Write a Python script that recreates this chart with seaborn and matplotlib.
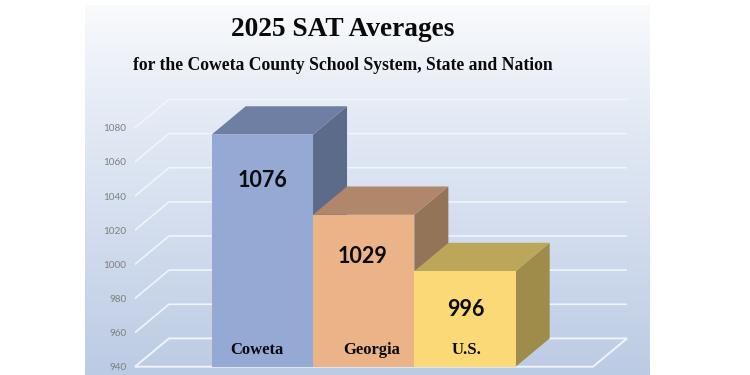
import numpy as np
import pandas as pd
import matplotlib
matplotlib.use("Agg")
import matplotlib.pyplot as plt
from matplotlib.colors import LinearSegmentedColormap
from matplotlib.patches import Polygon
import seaborn as sns

# Chart values
categories = ["Coweta", "Georgia", "U.S."]
scores = [1076, 1029, 996]
y_ticks = [940, 960, 980, 1000, 1020, 1040, 1060, 1080]

front_colors = ["#95A9D5", "#EBB388", "#FBD977"]
top_colors = ["#6E7FA3", "#B0876A", "#BBA65A"]
side_colors = ["#5D6B8B", "#937459", "#9F8C4A"]

W, H = 750, 375

sns.set_theme(style="white")
fig = plt.figure(figsize=(W / 100, H / 100), dpi=100, facecolor="white")

# Gradient panel behind the chart
panel = fig.add_axes([85 / W, 0, 565 / W, 370 / H], zorder=0)
panel_cmap = LinearSegmentedColormap.from_list(
    "panel", [(0, "#F9FAFC"), (0.23, "#E8EEF7"), (1, "#BCCBE4")])
panel.imshow(np.linspace(0, 1, 256).reshape(-1, 1), aspect="auto", cmap=panel_cmap)
panel.axis("off")

# Main axes, front plane of the fake 3D box
ax = fig.add_axes([135 / W, (H - 366.7) / H, (627 - 135) / W, (366.7 - 90) / H], zorder=1)
ax.patch.set_alpha(0)

df = pd.DataFrame({"area": categories, "score": scores})
sns.barplot(data=df, x="area", y="score", hue="area", palette=front_colors,
            saturation=1, width=1, dodge=False, legend=False, ax=ax)

# Later bars sit in front of the side face of the one before
for i, bar in enumerate(list(ax.patches)[:len(scores)]):
    bar.set_edgecolor("none")
    bar.set_zorder(2 + i)

x_per_px = 1 / 101.33
y_per_px = 1 / 1.707
depth_x = 34 * x_per_px
depth_y = 28.3 * y_per_px
x_left = -0.5 - (211.7 - 135) * x_per_px
x_right = -0.5 + (627 - 211.7) * x_per_px
y_base = y_ticks[0]
ax.set_xlim(x_left, x_right)
ax.set_ylim(y_base, y_base + (366.7 - 90) * y_per_px)

# Wall grid and floor
grid_color = "#F1F4FA"
for v in y_ticks[1:]:
    ax.plot([x_left, x_left + depth_x, x_right], [v, v + depth_y, v + depth_y],
            color=grid_color, lw=1.2, zorder=1)
ax.add_patch(Polygon([(x_left, y_base), (x_right - depth_x, y_base),
                      (x_right, y_base + depth_y), (x_left + depth_x, y_base + depth_y)],
                     closed=True, fill=False, edgecolor=grid_color, lw=1.4,
                     clip_on=False, zorder=1))

# Top and side faces of each bar
for i, score in enumerate(scores):
    x0, x1 = i - 0.5, i + 0.5
    ax.add_patch(Polygon([(x1, y_base), (x1, score), (x1 + depth_x, score + depth_y),
                          (x1 + depth_x, y_base + depth_y)],
                         closed=True, facecolor=side_colors[i], edgecolor="none", zorder=1.5 + i))
    ax.add_patch(Polygon([(x0, score), (x1, score), (x1 + depth_x, score + depth_y),
                          (x0 + depth_x, score + depth_y)],
                         closed=True, facecolor=top_colors[i], edgecolor="none", zorder=1.8 + i))

# Labels inside the bars
value_drop_px = [46, 42, 38]
value_shift_px = [0, -1.5, 1]
name_shift_px = [-5, 7.5, 2]
for i, score in enumerate(scores):
    ax.annotate(str(score), (i, score), xytext=(value_shift_px[i] * 0.72, -value_drop_px[i] * 0.72),
                textcoords="offset points", ha="center", va="center",
                family="Lato", fontweight="bold", fontsize=15.5, color="#0A0A0A", zorder=8)
    ax.annotate(categories[i], (i, y_base), xytext=(name_shift_px[i] * 0.72, 9),
                textcoords="offset points", ha="center", va="baseline",
                family="Liberation Serif", fontweight="bold", fontsize=12, color="#0A0A0A", zorder=8)

ax.set_xlabel("")
ax.set_ylabel("")
ax.set_xticks([])
ax.set_yticks(y_ticks)
ax.tick_params(axis="y", length=0, pad=6, labelsize=7.2, labelcolor="#7F7F7F")
for lab in ax.get_yticklabels():
    lab.set_family("Lato")
sns.despine(ax=ax, left=True, bottom=True)

fig.text(343 / W, 1 - 36 / H, "2025 SAT Averages", ha="center", va="baseline",
         family="Liberation Serif", fontweight="bold", fontsize=19.7, color="#0A0A0A")
fig.text(343 / W, 1 - 70 / H, "for the Coweta County School System, State and Nation",
         ha="center", va="baseline", family="Liberation Serif", fontweight="bold",
         fontsize=12.7, color="#0A0A0A")

fig.savefig("out.png", dpi=100)
